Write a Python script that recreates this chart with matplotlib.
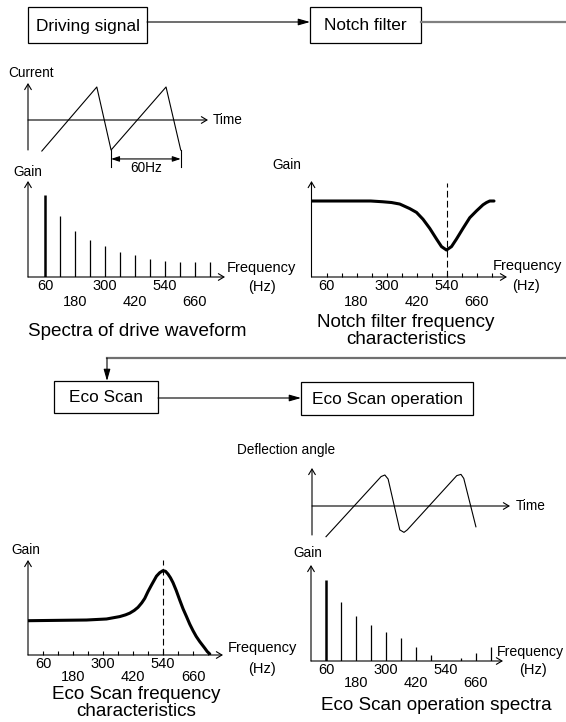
import matplotlib.pyplot as plt
from matplotlib.patches import Rectangle

plt.rcParams['font.family'] = ['Liberation Sans', 'DejaVu Sans']

# --- data ---
harm_freq = [60, 120, 180, 240, 300, 360, 420, 480, 540, 600, 660, 720]
drive_gain = [1.0, 0.74, 0.56, 0.45, 0.38, 0.31, 0.27, 0.22, 0.19, 0.18, 0.18, 0.18]
op_gain = [1.0, 0.73, 0.55, 0.44, 0.36, 0.29, 0.17, 0.07, 0.0, 0.04, 0.10, 0.17]

notch_freq = [0, 150, 237, 285, 320, 353, 373, 393, 420, 446, 473, 500, 520,
              540, 560, 580, 606, 633, 660, 686, 700, 713, 730]
notch_gain = [1.0, 1.0, 1.0, 0.99, 0.98, 0.96, 0.93, 0.90, 0.85, 0.76, 0.64,
              0.50, 0.40, 0.355, 0.40, 0.50, 0.64, 0.78, 0.87, 0.95, 0.98,
              1.0, 1.0]

eco_freq = [0, 234, 314, 367, 390, 407, 425, 440, 455, 467, 480, 494, 514,
            527, 540, 550, 560, 570, 580, 593, 607, 620, 634, 647, 660, 673,
            687, 707, 717, 727]
eco_gain = [1.0, 1.02, 1.05, 1.12, 1.17, 1.22, 1.30, 1.39, 1.52, 1.65, 1.85,
            2.04, 2.30, 2.40, 2.46, 2.44, 2.36, 2.25, 2.11, 1.88, 1.60, 1.35,
            1.12, 0.90, 0.71, 0.54, 0.39, 0.20, 0.10, 0.03]

cur_t = [3.3, 16.4, 19.8, 32.9, 36.4]          # ms
cur_val = [-0.94, 1.0, -0.91, 1.0, -0.91]

defl_t = [3.0, 14.8, 15.6, 16.3, 18.8, 19.7, 20.4, 31.0, 31.9, 32.5, 35.1]
defl_val = [-0.99, 0.95, 1.0, 0.87, -0.77, -0.85, -0.77, 0.98, 1.02, 0.89, -0.67]

row1 = [60, 300, 540]
row2 = [180, 420, 660]
notch_center = 540

W, H = 566, 722
fig = plt.figure(figsize=(W / 100, H / 100), dpi=100)

# background axes in pixel coordinates for the block diagram
bg = fig.add_axes([0, 0, 1, 1])
bg.set_xlim(0, W)
bg.set_ylim(H, 0)
bg.axis('off')

SMALL = 9.8
TICK = 10.5
BOX = 12.4
CAP = 13.6


def box(x0, y0, x1, y1, label):
    bg.add_patch(Rectangle((x0, y0), x1 - x0, y1 - y0, fc='white', ec='black', lw=0.9))
    bg.text((x0 + x1) / 2, (y0 + y1) / 2 + 1, label, ha='center', va='center', fontsize=BOX)


def flow_arrow(p0, p1, color='black', lw=0.8):
    bg.annotate('', xy=p1, xytext=p0,
                arrowprops=dict(arrowstyle='-|>,head_length=0.7,head_width=0.2',
                                mutation_scale=10, lw=lw, color=color,
                                shrinkA=0, shrinkB=0))


box(28, 7, 147, 43, 'Driving signal')
box(310, 7, 421, 43, 'Notch filter')
box(54, 381, 158, 413, 'Eco Scan')
box(301, 382, 473, 415, 'Eco Scan operation')
flow_arrow((147, 22), (310, 22))
bg.plot([421, 566], [22, 22], color='#808080', lw=1.6)
bg.plot([566, 107], [358, 358], color='#707070', lw=1.6)
flow_arrow((107, 358), (107, 381))
flow_arrow((158, 398), (301, 398))


def px_axes(l, t, r, b):
    ax = fig.add_axes([l / W, 1 - b / H, (r - l) / W, (b - t) / H])
    ax.patch.set_alpha(0)
    for s in ax.spines.values():
        s.set_visible(False)
    ax.set_yticks([])
    return ax


def axis_arrows(ax, y0=0.0):
    st = dict(arrowstyle='->,head_length=0.5,head_width=0.3', mutation_scale=8,
              lw=0.8, color='black', shrinkA=0, shrinkB=0)
    ax.annotate('', xy=(1, y0), xytext=(0, y0), xycoords='axes fraction', arrowprops=st)
    ax.annotate('', xy=(0, 1), xytext=(0, 0), xycoords='axes fraction', arrowprops=st)


def freq_ticks(ax, tick_len, spacing):
    labels = [str(f) if f in row1 else ('\n' + str(f) if f in row2 else '') for f in harm_freq]
    ax.set_xticks(harm_freq, labels)
    ax.tick_params(axis='x', direction='in', length=tick_len, width=0.8,
                   pad=1.5, labelsize=TICK)
    for lab in ax.get_xticklabels():
        lab.set_linespacing(spacing)


# current waveform
ax = px_axes(28, 83, 208, 150)
ax.set_xlim(0, 42.9)
ax.set_ylim(-0.909, 1.121)
ax.set_xticks([])
axis_arrows(ax, y0=30 / 67)
ax.plot(cur_t, cur_val, color='black', lw=0.8, clip_on=False)
for t in (cur_t[2], cur_t[4]):
    ax.plot([t, t], [-0.91, -1.42], color='black', lw=0.8, clip_on=False)
ax.annotate('', xy=(cur_t[2], -1.18), xytext=(cur_t[4], -1.18), xycoords='data',
            arrowprops=dict(arrowstyle='<|-|>,head_length=0.6,head_width=0.2',
                            mutation_scale=8, lw=0.8, color='black',
                            shrinkA=0, shrinkB=0), annotation_clip=False)
bg.text(31, 73, 'Current', ha='center', va='center', fontsize=SMALL)
bg.text(213, 120, 'Time', ha='left', va='center', fontsize=SMALL)
bg.text(146, 168, '60Hz', ha='center', va='center', fontsize=SMALL)

# spectra of drive waveform
ax = px_axes(28, 181, 225, 277)
ax.set_xlim(-8, 780)
ax.set_ylim(0, 96 / 82)
axis_arrows(ax)
ax.vlines(harm_freq[0], 0, drive_gain[0], color='black', lw=1.8)
ax.vlines(harm_freq[1:], 0, drive_gain[1:], color='black', lw=0.9)
freq_ticks(ax, 0, 1.15)
bg.text(27.5, 172, 'Gain', ha='center', va='center', fontsize=SMALL)
bg.text(227, 268, 'Frequency', ha='left', va='center', fontsize=TICK)
bg.text(262, 287, '(Hz)', ha='center', va='center', fontsize=TICK)
bg.text(137, 332, 'Spectra of drive waveform', ha='center', va='center', fontsize=CAP)

# notch filter characteristics
ax = px_axes(311.5, 181, 507, 277)
ax.set_xlim(0, 782)
ax.set_ylim(0, 96 / 76)
axis_arrows(ax)
ax.axvline(notch_center, ymax=0.98, color='black', lw=0.8, ls=(0, (6, 3)))
ax.plot(notch_freq, notch_gain, color='black', lw=2.2, solid_capstyle='round',
        solid_joinstyle='round')
freq_ticks(ax, 3, 1.15)
bg.text(286.5, 165, 'Gain', ha='center', va='center', fontsize=SMALL)
bg.text(493, 266, 'Frequency', ha='left', va='center', fontsize=TICK)
bg.text(526, 286, '(Hz)', ha='center', va='center', fontsize=TICK)
bg.text(406, 331, 'Notch filter frequency\ncharacteristics', ha='center',
        va='center', fontsize=CAP, linespacing=1.0)

# deflection angle waveform
ax = px_axes(312, 468, 510, 535)
ax.set_xlim(0, 42.4)
ax.set_ylim(-0.935, 1.226)
ax.set_xticks([])
axis_arrows(ax, y0=29 / 67)
ax.plot(defl_t, defl_val, color='black', lw=0.8, clip_on=False, solid_joinstyle='round')
bg.text(286.5, 450, 'Deflection angle', ha='center', va='center', fontsize=SMALL)
bg.text(516, 506, 'Time', ha='left', va='center', fontsize=SMALL)

# eco scan frequency characteristics
ax = px_axes(28, 560, 223, 655)
ax.set_xlim(0, 780)
ax.set_ylim(0, 95 / 34.3)
axis_arrows(ax)
ax.axvline(notch_center, ymax=1.0, color='black', lw=0.8, ls=(0, (6, 3)))
ax.plot(eco_freq, eco_gain, color='black', lw=2.2, solid_capstyle='round',
        solid_joinstyle='round')
freq_ticks(ax, 3, 0.9)
bg.text(26, 550, 'Gain', ha='center', va='center', fontsize=SMALL)
bg.text(228, 648, 'Frequency', ha='left', va='center', fontsize=TICK)
bg.text(262, 669, '(Hz)', ha='center', va='center', fontsize=TICK)
bg.text(136, 703, 'Eco Scan frequency\ncharacteristics', ha='center',
        va='center', fontsize=CAP, linespacing=0.95)

# eco scan operation spectra
ax = px_axes(311, 565, 503, 661)
ax.set_xlim(0, 768)
ax.set_ylim(0, 96 / 81)
axis_arrows(ax)
ax.vlines(harm_freq[0], 0, op_gain[0], color='black', lw=1.8)
ax.vlines(harm_freq[1:], 0, op_gain[1:], color='black', lw=0.9)
freq_ticks(ax, 0, 0.9)
bg.text(308, 553, 'Gain', ha='center', va='center', fontsize=SMALL)
bg.text(497, 652, 'Frequency', ha='left', va='center', fontsize=10.2)
bg.text(533, 670, '(Hz)', ha='center', va='center', fontsize=TICK)
bg.text(436, 706, 'Eco Scan operation spectra', ha='center', va='center', fontsize=CAP)

fig.savefig('out.png', dpi=100)
